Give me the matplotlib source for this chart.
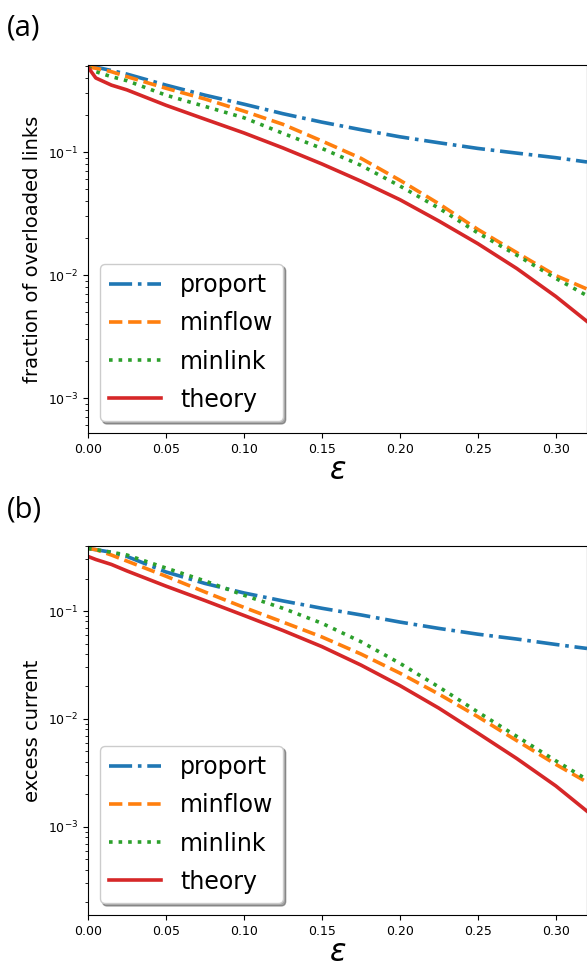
import numpy as np
import matplotlib
matplotlib.use("Agg")
import matplotlib.pyplot as plt

# epsilon grid shared by all curves
eps = [0.0, 0.005, 0.015, 0.025, 0.05, 0.075, 0.10, 0.125, 0.15, 0.175,
       0.20, 0.225, 0.25, 0.275, 0.30, 0.32]

# panel (a): fraction of overloaded links
a_proport = [0.49, 0.49, 0.46, 0.43, 0.35, 0.29, 0.245, 0.205, 0.175, 0.152,
             0.133, 0.119, 0.107, 0.098, 0.090, 0.083]
a_minflow = [0.49, 0.48, 0.45, 0.41, 0.33, 0.27, 0.215, 0.168, 0.123, 0.089,
             0.059, 0.038, 0.0235, 0.0152, 0.0099, 0.0077]
a_minlink = [0.49, 0.45, 0.41, 0.38, 0.29, 0.235, 0.19, 0.142, 0.107, 0.078,
             0.053, 0.035, 0.022, 0.0145, 0.0094, 0.0068]
a_theory = [0.49, 0.40, 0.35, 0.32, 0.24, 0.185, 0.143, 0.108, 0.080, 0.058,
            0.041, 0.0275, 0.018, 0.0113, 0.0067, 0.0042]

# panel (b): excess current
b_proport = [0.38, 0.37, 0.35, 0.32, 0.23, 0.18, 0.147, 0.124, 0.106, 0.092,
             0.079, 0.069, 0.061, 0.055, 0.049, 0.045]
b_minflow = [0.38, 0.37, 0.33, 0.29, 0.21, 0.15, 0.108, 0.079, 0.0575, 0.040,
             0.0266, 0.017, 0.0105, 0.0063, 0.0038, 0.0026]
b_minlink = [0.38, 0.37, 0.35, 0.33, 0.25, 0.19, 0.14, 0.106, 0.077, 0.052,
             0.0328, 0.0198, 0.0116, 0.0069, 0.0041, 0.00275]
b_theory = [0.32, 0.30, 0.27, 0.235, 0.17, 0.125, 0.091, 0.066, 0.0468, 0.0316,
            0.0204, 0.0126, 0.0074, 0.0043, 0.0024, 0.0014]

labels = ['proport', 'minflow', 'minlink', 'theory']
styles = ['-.', '--', ':', '-']
colors = ['#1f77b4', '#ff7f0e', '#2ca02c', '#d62728']

fig = plt.figure(figsize=(5.87, 9.67), dpi=100)
ax_a = fig.add_axes([88/587, 1 - 433/967, 499/587, 368/967])
ax_b = fig.add_axes([88/587, 1 - 915/967, 499/587, 369/967])


def draw(ax, series, ylabel, ylim):
    for y, lab, ls, c in zip(series, labels, styles, colors):
        ax.plot(eps, y, ls, color=c, lw=2.6, label=lab)
    ax.set_yscale('log')
    ax.set_xlim(0, 0.32)
    ax.set_ylim(*ylim)
    ax.set_xticks([0.0, 0.05, 0.10, 0.15, 0.20, 0.25, 0.30])
    ax.tick_params(labelsize=9)
    ax.set_ylabel(ylabel, fontsize=14)
    ax.set_xlabel(r'$\varepsilon$', fontsize=22, labelpad=0)
    ax.legend(loc='lower left', fontsize=17, shadow=True, labelspacing=0.6,
              handlelength=2.2)


draw(ax_a, [a_proport, a_minflow, a_minlink, a_theory],
     'fraction of overloaded links', (5.2e-4, 0.51))
draw(ax_b, [b_proport, b_minflow, b_minlink, b_theory],
     'excess current', (1.53e-4, 0.40))

fig.text(0.012, 1 - 28/967, '(a)', fontsize=21, family='Open Sans', va='center')
fig.text(0.012, 1 - 510/967, '(b)', fontsize=21, family='Open Sans', va='center')

fig.savefig('out.png', dpi=100)
